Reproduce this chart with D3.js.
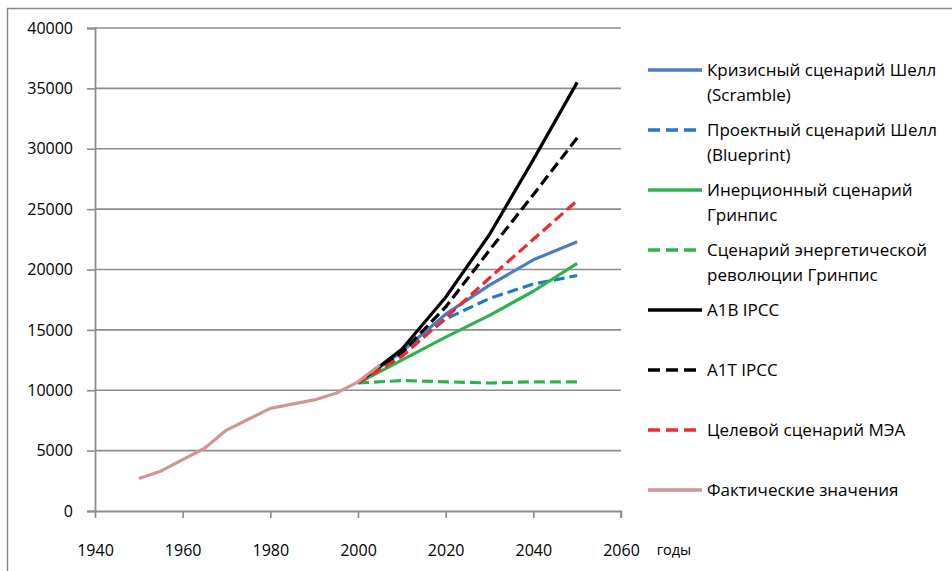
<!DOCTYPE html>
<html>
<head>
<meta charset="utf-8">
<script src="https://cdn.jsdelivr.net/npm/d3@7"></script>
<style>
  body { margin: 0; background: #fff; }
  svg { font-family: "Open Sans", sans-serif; }
</style>
</head>
<body>
<div id="chart"></div>
<script>
const width = 952
const height = 571
const margin = { top: 28, left: 95, right: 331, bottom: 60 }

// actual values
const actualYears = [1950, 1955, 1960, 1965, 1970, 1975, 1980, 1985, 1990, 1995, 2000, 2005]
const actualValues = [2700, 3300, 4250, 5200, 6700, 7600, 8500, 8850, 9200, 9750, 10700, 12100]

// scenarios
const scenarioYears = [2000, 2010, 2020, 2030, 2040, 2050]
const scramble = [10600, 13200, 16300, 18700, 20800, 22300]
const blueprint = [10600, 13000, 15900, 17600, 18800, 19500]
const gpReference = [10600, 12500, 14400, 16200, 18200, 20500]
const gpRevolution = [10600, 10800, 10700, 10600, 10700, 10700]
const a1b = [10600, 13400, 17700, 22900, 29100, 35500]
const a1t = [10600, 13100, 16900, 21600, 26200, 30900]
const ieaTarget = [10600, 12800, 16000, 19300, 22500, 25700]

const yTicks = [0, 5000, 10000, 15000, 20000, 25000, 30000, 35000, 40000]
const xTicks = [1940, 1960, 1980, 2000, 2020, 2040, 2060]

const series = [
  { name: ['Кризисный сценарий Шелл', '(Scramble)'], years: scenarioYears, values: scramble, color: '#4a7ebb', dash: null },
  { name: ['Проектный сценарий Шелл', '(Blueprint)'], years: scenarioYears, values: blueprint, color: '#1f78c8', dash: '11,5' },
  { name: ['Инерционный сценарий', 'Гринпис'], years: scenarioYears, values: gpReference, color: '#2db34c', dash: null },
  { name: ['Сценарий энергетической', 'революции Гринпис'], years: scenarioYears, values: gpRevolution, color: '#2db34c', dash: '11,5' },
  { name: ['A1B IPCC'], years: scenarioYears, values: a1b, color: '#000000', dash: null },
  { name: ['A1T IPCC'], years: scenarioYears, values: a1t, color: '#000000', dash: '11,5' },
  { name: ['Целевой сценарий МЭА'], years: scenarioYears, values: ieaTarget, color: '#ee2a2a', dash: '11,5' },
  { name: ['Фактические значения'], years: actualYears, values: actualValues, color: '#d09595', dash: null }
]

const xScale = d3.scaleLinear()
  .domain([1940, 2060])
  .range([margin.left, width - margin.right])

const yScale = d3.scaleLinear()
  .domain([0, 40000])
  .range([height - margin.bottom, margin.top])

const svg = d3.select('#chart')
  .append('svg')
  .attr('width', width)
  .attr('height', height)

// outer frame
svg.append('rect')
  .attr('x', 7.5)
  .attr('y', 8.5)
  .attr('width', width + 20)
  .attr('height', height + 20)
  .attr('fill', 'none')
  .attr('stroke', '#8a8a8a')
  .attr('stroke-width', 1.5)

// gridlines
svg.append('g')
  .selectAll('line')
  .data(yTicks.slice(1))
  .join('line')
  .attr('x1', xScale(1940))
  .attr('x2', xScale(2060))
  .attr('y1', (d) => yScale(d))
  .attr('y2', (d) => yScale(d))
  .attr('stroke', '#8c8c8c')
  .attr('stroke-width', 1.6)

const yAxis = svg.append('g')
  .attr('transform', `translate(${margin.left}, 0)`)
  .call(d3.axisLeft(yScale).tickValues(yTicks).tickFormat(d3.format('d')).tickSize(8).tickPadding(14))

const xAxis = svg.append('g')
  .attr('transform', `translate(0, ${height - margin.bottom})`)
  .call(d3.axisBottom(xScale).tickValues(xTicks).tickFormat(d3.format('d')).tickSize(7).tickPadding(27))

for (const axis of [xAxis, yAxis]) {
  axis.select('.domain').attr('stroke', '#8c8c8c').attr('stroke-width', 1.8)
  axis.selectAll('.tick line').attr('stroke', '#8c8c8c').attr('stroke-width', 1.6)
  axis.selectAll('.tick text')
    .attr('fill', '#000')
    .style('font-family', '"Open Sans", sans-serif')
    .style('font-size', '16px')
}
xAxis.selectAll('.tick line').attr('y2', 7)
xAxis.select('.domain').attr('d', `M${xScale(1940)},0.5V0.5H${xScale(2060)}V7`)

svg.append('text')
  .attr('x', 674)
  .attr('y', 555)
  .attr('text-anchor', 'middle')
  .style('font-size', '14.5px')
  .text('годы')

const line = d3.line()
  .x((d) => xScale(d[0]))
  .y((d) => yScale(d[1]))

svg.append('g')
  .selectAll('path')
  .data(series)
  .join('path')
  .attr('d', (s) => line(s.years.map((y, i) => [y, s.values[i]])))
  .attr('fill', 'none')
  .attr('stroke', (s) => s.color)
  .attr('stroke-width', 3.2)
  .attr('stroke-dasharray', (s) => s.dash)
  .attr('stroke-linejoin', 'round')

// legend
const legend = svg.append('g')
  .selectAll('g')
  .data(series)
  .join('g')
  .attr('transform', (d, i) => `translate(648, ${70 + i * 60})`)

legend.append('line')
  .attr('x1', 0)
  .attr('x2', 54)
  .attr('stroke', (s) => s.color)
  .attr('stroke-width', 3.4)
  .attr('stroke-dasharray', (s) => s.dash ? '12,6' : null)

legend.append('text')
  .attr('x', 59)
  .attr('y', 6)
  .style('font-size', '17px')
  .selectAll('tspan')
  .data((s) => s.name)
  .join('tspan')
  .attr('x', 59)
  .attr('dy', (d, i) => i === 0 ? 0 : 25)
  .text((d) => d)
</script>
</body>
</html>
